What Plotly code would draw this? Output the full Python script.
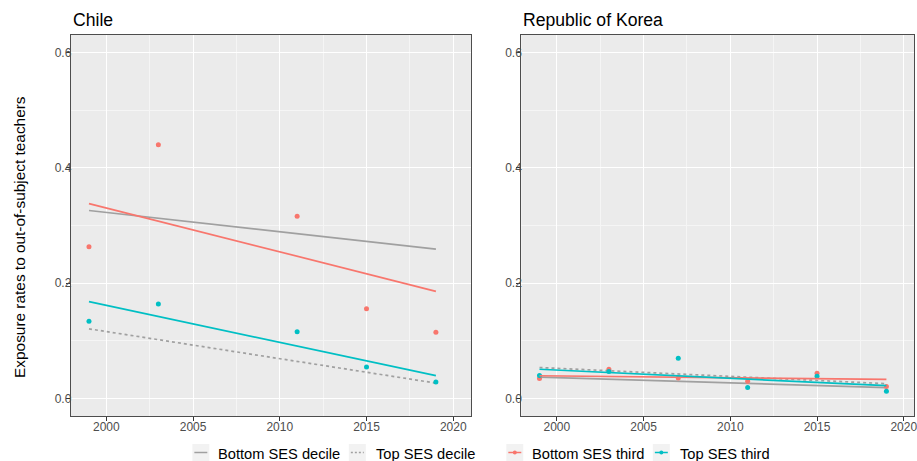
import plotly.graph_objects as go

# Observed exposure rates (share of students taught by out-of-subject teachers)
chile_years = [1999, 2003, 2011, 2015, 2019]
chile_bottom_third = [0.263, 0.440, 0.316, 0.156, 0.115]
chile_top_third = [0.134, 0.164, 0.116, 0.055, 0.029]

korea_years = [1999, 2003, 2007, 2011, 2015, 2019]
korea_bottom_third = [0.035, 0.051, 0.036, 0.030, 0.044, 0.021]
korea_top_third = [0.040, 0.047, 0.070, 0.0195, 0.039, 0.013]

# Linear trend fits, evaluated at the first and last survey year
fit_years = [1999, 2019]
chile_bottom_decile_fit = [0.326, 0.259]
chile_top_decile_fit = [0.121, 0.027]
chile_bottom_third_fit = [0.338, 0.186]
chile_top_third_fit = [0.168, 0.040]
korea_bottom_decile_fit = [0.0375, 0.019]
korea_top_decile_fit = [0.054, 0.026]
korea_bottom_third_fit = [0.0397, 0.0334]
korea_top_third_fit = [0.051, 0.0225]

panel_titles = ["Chile", "Republic of Korea"]
legend_labels = ["Bottom SES decile", "Top SES decile", "Bottom SES third", "Top SES third"]
x_ticks = [2000, 2005, 2010, 2015, 2020]
y_ticks = [0.0, 0.2, 0.4, 0.6]

RED = "#F8766D"
TEAL = "#00BFC4"
GREY = "#A0A0A0"
FONT = "Liberation Sans, Arial, sans-serif"

W, H = 917, 461


def px(x):
    return x / W


def py(y):
    return 1 - y / H


fig = go.Figure()

panels = [
    ("x", "y", chile_years, chile_bottom_third, chile_top_third,
     chile_bottom_decile_fit, chile_top_decile_fit, chile_bottom_third_fit, chile_top_third_fit),
    ("x2", "y2", korea_years, korea_bottom_third, korea_top_third,
     korea_bottom_decile_fit, korea_top_decile_fit, korea_bottom_third_fit, korea_top_third_fit),
]

LW = 1.7
for xa, ya, yrs, bot, top, bd_fit, td_fit, bt_fit, tt_fit in panels:
    fig.add_trace(go.Scatter(x=fit_years, y=bd_fit, mode="lines", xaxis=xa, yaxis=ya,
                             line=dict(color=GREY, width=LW), showlegend=False))
    fig.add_trace(go.Scatter(x=fit_years, y=td_fit, mode="lines", xaxis=xa, yaxis=ya,
                             line=dict(color=GREY, width=LW, dash="3px,3px"), showlegend=False))
    fig.add_trace(go.Scatter(x=yrs, y=bot, mode="markers", xaxis=xa, yaxis=ya,
                             marker=dict(color=RED, size=5), showlegend=False))
    fig.add_trace(go.Scatter(x=yrs, y=top, mode="markers", xaxis=xa, yaxis=ya,
                             marker=dict(color=TEAL, size=5), showlegend=False))
    fig.add_trace(go.Scatter(x=fit_years, y=bt_fit, mode="lines", xaxis=xa, yaxis=ya,
                             line=dict(color=RED, width=LW), showlegend=False))
    fig.add_trace(go.Scatter(x=fit_years, y=tt_fit, mode="lines", xaxis=xa, yaxis=ya,
                             line=dict(color=TEAL, width=LW), showlegend=False))

axis_common = dict(
    showline=True, linecolor="#4d4d4d", linewidth=1, mirror=True,
    ticks="outside", ticklen=4, tickcolor="#333333", tickwidth=1,
    tickfont=dict(family=FONT, size=12, color="#4d4d4d"),
    showgrid=True, gridcolor="#FFFFFF", gridwidth=1.1, zeroline=False,
)

x_minor = dict(dtick=2.5, showgrid=True, gridcolor="#F5F5F5", gridwidth=0.55, ticks="")
y_minor = dict(dtick=0.1, showgrid=True, gridcolor="#F5F5F5", gridwidth=0.55, ticks="")

y_dom = [py(416), py(35)]
y_range = [-0.03, 0.63]

fig.update_layout(
    width=W, height=H,
    margin=dict(l=0, r=0, t=0, b=0),
    paper_bgcolor="white",
    plot_bgcolor="#EBEBEB",
    font=dict(family=FONT, color="#000000"),
    showlegend=False,
    xaxis=dict(domain=[px(71), px(473)], range=[1997.95, 2021.05], tickvals=x_ticks,
               ticktext=[str(v) for v in x_ticks], minor=x_minor, anchor="y",
               ticklabelstandoff=-4, **axis_common),
    yaxis=dict(domain=y_dom, range=y_range, tickvals=y_ticks,
               ticktext=["%.1f" % v for v in y_ticks], minor=y_minor, anchor="x",
               ticklabelstandoff=-8, **axis_common),
    xaxis2=dict(domain=[px(523), 1.0], range=[1997.95, 2020.59], tickvals=x_ticks,
                ticktext=[str(v) for v in x_ticks], minor=x_minor, anchor="y2",
                ticklabelstandoff=-4, ticklabeloverflow="allow", **axis_common),
    yaxis2=dict(domain=y_dom, range=y_range, tickvals=y_ticks,
                ticktext=["%.1f" % v for v in y_ticks], minor=y_minor, anchor="x2",
                ticklabelstandoff=-8, **axis_common),
)

# Panel titles
for title, left in zip(panel_titles, [71, 523]):
    fig.add_annotation(text=title, xref="paper", yref="paper", x=px(left), y=py(20),
                       xanchor="left", yanchor="middle", showarrow=False,
                       font=dict(family=FONT, size=17.6, color="#000000"))

# Shared y-axis title
fig.add_annotation(text="Exposure rates to out-of-subject teachers", xref="paper", yref="paper",
                   x=px(19), y=py(237), textangle=-90, xanchor="center", yanchor="middle",
                   showarrow=False, font=dict(family=FONT, size=15.4, color="#000000"))

# Legend along the bottom: key boxes, key glyphs and labels
key_lefts = [193, 350, 508, 655]
text_lefts = [217, 375, 532, 680]
key_styles = [(GREY, None, False), (GREY, "dot", False), (RED, None, True), (TEAL, None, True)]
key_top, key_bottom, key_mid = 444, 461, 452.5
for label, kx, tx, (col, dash, pt) in zip(legend_labels, key_lefts, text_lefts, key_styles):
    fig.add_shape(type="rect", xref="paper", yref="paper",
                  x0=px(kx), x1=px(kx + 17), y0=py(key_bottom), y1=py(key_top),
                  fillcolor="#F2F2F2", line=dict(width=0), layer="above")
    fig.add_shape(type="line", xref="paper", yref="paper",
                  x0=px(kx + 2), x1=px(kx + 15), y0=py(key_mid), y1=py(key_mid),
                  line=dict(color=col, width=1.5, dash=("2px,2px" if dash else "solid")),
                  layer="above")
    if pt:
        fig.add_shape(type="circle", xref="paper", yref="paper",
                      x0=px(kx + 6.5), x1=px(kx + 10.5), y0=py(key_mid + 2), y1=py(key_mid - 2),
                      fillcolor=col, line=dict(width=0), layer="above")
    fig.add_annotation(text=label, xref="paper", yref="paper", x=px(tx), y=py(453.5),
                       xanchor="left", yanchor="middle", showarrow=False,
                       font=dict(family=FONT, size=14.67, color="#000000"))

fig.write_html("out.html", config={"displayModeBar": False})
